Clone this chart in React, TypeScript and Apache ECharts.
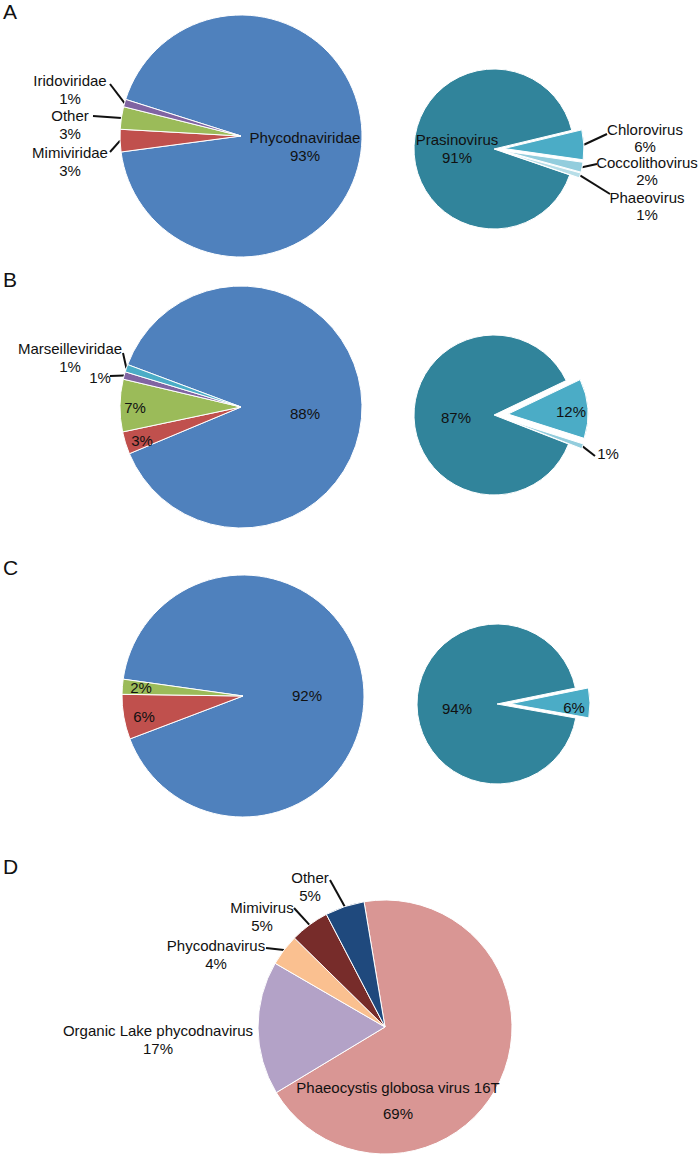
import React, { useEffect, useRef } from "react";
import * as echarts from "echarts";

// ---------------- data ----------------
const panelLetters = ["A", "B", "C", "D"];

const aLeftNames = ["Phycodnaviridae", "Mimiviridae", "Other", "Iridoviridae"];
const aLeftValues = [93, 3, 3, 1];

const aRightNames = ["Chlorovirus", "Coccolithovirus", "Phaeovirus", "Prasinovirus"];
const aRightValues = [6, 2, 1, 91];

const bLeftNames = ["Phycodnaviridae", "Mimiviridae", "Other", "Iridoviridae", "Marseilleviridae"];
const bLeftValues = [88, 3, 7, 1, 1];

const bRightNames = ["Chlorovirus", "Coccolithovirus", "Prasinovirus"];
const bRightValues = [12, 1, 87];

const cLeftNames = ["Phycodnaviridae", "Mimiviridae", "Other"];
const cLeftValues = [92, 6, 2];

const cRightNames = ["Chlorovirus", "Prasinovirus"];
const cRightValues = [6, 94];

const dNames = [
  "Phaeocystis globosa virus 16T",
  "Organic Lake phycodnavirus",
  "Phycodnavirus",
  "Mimivirus",
  "Other",
];
const dValues = [69, 17, 4, 5, 5];

// ---------------- styles ----------------
const FONT = '"Liberation Sans", Arial, Helvetica, sans-serif';
const TEXT = "#111111";

const familyColors: Record<string, string> = {
  Phycodnaviridae: "#4F81BD",
  Mimiviridae: "#C0504D",
  Other: "#9BBB59",
  Iridoviridae: "#8064A2",
  Marseilleviridae: "#4BACC6",
};
const genusColors: Record<string, string> = {
  Chlorovirus: "#4BACC6",
  Coccolithovirus: "#93CDDD",
  Phaeovirus: "#B7DEE8",
  Prasinovirus: "#31849B",
};
const dColors = ["#D99694", "#B3A2C7", "#FAC090", "#772C2A", "#1F497D"];

type LabelSpec = {
  mode: "in" | "out" | "outNoLine";
  text: "full" | "pct";
  dx: number;
  dy: number;
  lx?: number;
  ly?: number;
  lineHeight?: number;
} | null;

type Panel = {
  names: string[];
  values: number[];
  colors: string[];
  center: [number, number];
  r: number;
  startAngle: number;
  exploded: number[];
  offset: number;
  labels: LabelSpec[];
};

const panels: Panel[] = [
  {
    names: aLeftNames,
    values: aLeftValues,
    colors: aLeftNames.map((n) => familyColors[n]),
    center: [241, 136],
    r: 121,
    startAngle: 162.4,
    exploded: [],
    offset: 0,
    labels: [
      { mode: "in", text: "full", dx: 64, dy: 10 },
      { mode: "out", text: "full", dx: -171, dy: 25, lx: -131, ly: 16 },
      { mode: "out", text: "full", dx: -171, dy: -12, lx: -148, ly: -20 },
      { mode: "out", text: "full", dx: -171, dy: -47, lx: -131, ly: -52 },
    ],
  },
  {
    names: aRightNames,
    values: aRightValues,
    colors: aRightNames.map((n) => genusColors[n]),
    center: [494, 149],
    r: 80,
    startAngle: 13.5,
    exploded: [0, 1, 2],
    offset: 10,
    labels: [
      { mode: "out", text: "full", dx: 151, dy: -11, lx: 113, ly: -15, lineHeight: 17 },
      { mode: "out", text: "full", dx: 153, dy: 22, lx: 103, ly: 15, lineHeight: 17 },
      { mode: "out", text: "full", dx: 153, dy: 57, lx: 116, ly: 45, lineHeight: 17 },
      { mode: "in", text: "full", dx: -37, dy: -1 },
    ],
  },
  {
    names: bLeftNames,
    values: bLeftValues,
    colors: bLeftNames.map((n) => familyColors[n]),
    center: [241, 407],
    r: 121,
    startAngle: 159.5,
    exploded: [],
    offset: 0,
    labels: [
      { mode: "in", text: "pct", dx: 64, dy: 6 },
      { mode: "in", text: "pct", dx: -99, dy: 33 },
      { mode: "in", text: "pct", dx: -106, dy: 0 },
      { mode: "out", text: "pct", dx: -141, dy: -30, lx: -131, ly: -31 },
      { mode: "out", text: "full", dx: -171, dy: -49.5, lx: -118, ly: -54 },
    ],
  },
  {
    names: bRightNames,
    values: bRightValues,
    colors: bRightNames.map((n) => genusColors[n]),
    center: [494, 415],
    r: 80,
    startAngle: 25.5,
    exploded: [0, 1],
    offset: 14,
    labels: [
      { mode: "in", text: "pct", dx: 77, dy: -4 },
      { mode: "out", text: "pct", dx: 114, dy: 38, lx: 101, ly: 41 },
      { mode: "in", text: "pct", dx: -38, dy: 2 },
    ],
  },
  {
    names: cLeftNames,
    values: cLeftValues,
    colors: cLeftNames.map((n) => familyColors[n]),
    center: [243, 696],
    r: 121,
    startAngle: 172,
    exploded: [],
    offset: 0,
    labels: [
      { mode: "in", text: "pct", dx: 64, dy: -1 },
      { mode: "in", text: "pct", dx: -99, dy: 20 },
      { mode: "in", text: "pct", dx: -102, dy: -9 },
    ],
  },
  {
    names: cRightNames,
    values: cRightValues,
    colors: cRightNames.map((n) => genusColors[n]),
    center: [497, 704],
    r: 80,
    startAngle: 11.5,
    exploded: [0],
    offset: 13,
    labels: [
      { mode: "in", text: "pct", dx: 77, dy: 3 },
      { mode: "in", text: "pct", dx: -40, dy: 4 },
    ],
  },
  {
    names: dNames,
    values: dValues,
    colors: dColors,
    center: [385, 1027],
    r: 127,
    startAngle: 99.5,
    exploded: [],
    offset: 0,
    labels: [
      { mode: "in", text: "full", dx: 13, dy: 73, lineHeight: 26 },
      { mode: "outNoLine", text: "full", dx: -227, dy: 12.5 },
      { mode: "out", text: "full", dx: -169, dy: -72.5, lx: -119, ly: -79 },
      { mode: "out", text: "full", dx: -123, dy: -111, lx: -91, ly: -119 },
      { mode: "out", text: "full", dx: -75, dy: -140.5, lx: -55, ly: -147 },
    ],
  },
];

const letterY = [1, 269, 557, 856];

function midAngles(values: number[], startAngle: number): number[] {
  const total = values.reduce((a, b) => a + b, 0);
  let cum = 0;
  return values.map((v) => {
    const m = startAngle - ((cum + v / 2) / total) * 360;
    cum += v;
    return m;
  });
}

function makeSeries(p: Panel, visible: number[], center: [number, number]): any {
  const [bx, by] = p.center;
  const data = p.names.map((name, i) => {
    const vis = visible.includes(i);
    const spec = p.labels[i];
    return {
      name,
      value: p.values[i],
      itemStyle: vis
        ? { color: p.colors[i] }
        : { color: "rgba(0,0,0,0)", borderWidth: 0 },
      label:
        vis && spec
          ? {
              show: true,
              position: spec.mode === "in" ? "inside" : "outside",
              formatter: spec.text === "pct" ? "{c}%" : "{b}\n{c}%",
              lineHeight: spec.lineHeight ?? 18,
            }
          : { show: false },
      labelLine: { show: !!(vis && spec && spec.mode === "out") },
    };
  });
  return {
    type: "pie",
    center,
    radius: p.r,
    startAngle: p.startAngle,
    clockwise: true,
    avoidLabelOverlap: false,
    silent: true,
    emphasis: { disabled: true },
    itemStyle: { borderColor: "#ffffff", borderWidth: 1 },
    label: { color: TEXT, fontSize: 15, fontFamily: FONT },
    labelLine: {
      length: 4,
      length2: 4,
      smooth: false,
      lineStyle: { color: TEXT, width: 2 },
    },
    labelLayout: (params: any) => {
      const i = params.dataIndex;
      const spec = p.labels[i];
      if (!spec || !visible.includes(i)) return {};
      const out: any = {
        x: bx + spec.dx,
        y: by + spec.dy,
        align: "center",
        verticalAlign: "middle",
      };
      if (spec.mode === "out" && params.labelLinePoints && spec.lx !== undefined) {
        out.labelLinePoints = [
          params.labelLinePoints[0],
          [bx + (spec.lx as number), by + (spec.ly as number)],
        ];
      }
      return out;
    },
    data,
  };
}

function buildSeries(): any[] {
  const series: any[] = [];
  panels.forEach((p) => {
    const all = p.names.map((_, i) => i);
    const mainVisible = all.filter((i) => !p.exploded.includes(i));
    series.push(makeSeries(p, mainVisible, p.center));
    const mids = midAngles(p.values, p.startAngle);
    p.exploded.forEach((i) => {
      const a = (mids[i] * Math.PI) / 180;
      const c: [number, number] = [
        p.center[0] + p.offset * Math.cos(a),
        p.center[1] - p.offset * Math.sin(a),
      ];
      series.push(makeSeries(p, [i], c));
    });
  });
  return series;
}

export default function App() {
  const ref = useRef<HTMLDivElement>(null);
  useEffect(() => {
    if (!ref.current) return;
    const chart = echarts.init(ref.current, undefined, { renderer: "svg" });
    chart.setOption({
      animation: false,
      backgroundColor: "#ffffff",
      textStyle: { fontFamily: FONT },
      graphic: panelLetters.map((t, i) => ({
        type: "text",
        x: 3,
        y: letterY[i],
        style: {
          text: t,
          fontSize: 21,
          fontFamily: FONT,
          fill: TEXT,
          verticalAlign: "top",
        },
      })),
      series: buildSeries(),
    });
    return () => chart.dispose();
  }, []);
  return (
    <div
      ref={ref}
      style={{ position: "absolute", left: 0, top: 0, width: 700, height: 1160 }}
    />
  );
}
